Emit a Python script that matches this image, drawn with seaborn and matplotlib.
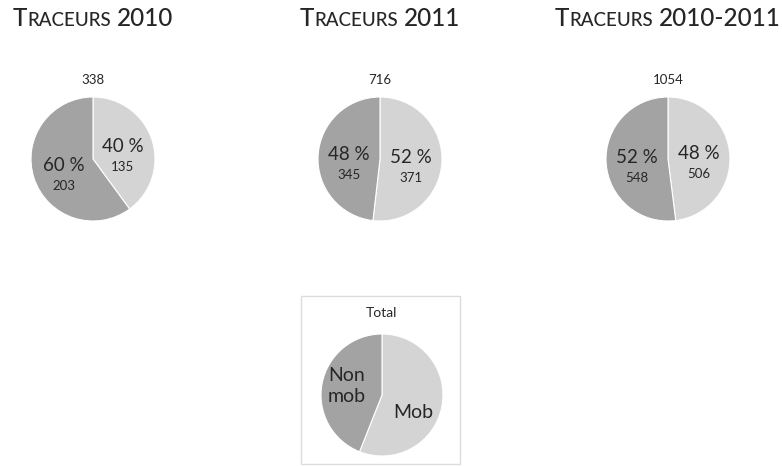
import math
import matplotlib
matplotlib.use("Agg")
import matplotlib.pyplot as plt
import seaborn as sns
from matplotlib.patches import Rectangle

# ---- data ----
categories = ["Mob", "Non mob"]
panel_titles = ["Traceurs 2010", "Traceurs 2011", "Traceurs 2010-2011"]
mob_counts = [135, 371, 506]
non_mob_counts = [203, 345, 548]
key_title = "Total"
key_shares = [56, 44]          # illustrative split for the key pie

# ---- style ----
sns.set_theme(style="white")
plt.rcParams["font.family"] = ["Lato", "DejaVu Sans"]
slice_colors = sns.color_palette(["#d4d4d4", "#a3a3a3"])
text_color = "#262626"

W, H = 782, 466
fig = plt.figure(figsize=(W / 100, H / 100), dpi=100)
fig.patch.set_facecolor("white")
renderer = fig.canvas.get_renderer()


def fx(x):
    return x / W


def fy(y):
    return 1 - y / H


def draw_pie(cx, cy, r, values):
    ax = fig.add_axes([fx(cx - r), fy(cy + r), 2 * r / W, 2 * r / H])
    ax.pie(values, colors=slice_colors, startangle=90, counterclock=False,
           radius=1, wedgeprops=dict(edgecolor="white", linewidth=0.8))
    ax.set_xlim(-1, 1)
    ax.set_ylim(-1, 1)
    ax.set_axis_off()
    return ax


def small_caps(text, cx, baseline, big, small):
    """Draw text centred on cx in small capitals (first letters full size)."""
    runs = []
    for word_i, word in enumerate(text.split(" ")):
        if word_i:
            runs.append((" ", big))
        for k, ch in enumerate(word):
            size = big if (k == 0 or not ch.isalpha()) else small
            if runs and runs[-1][1] == size and runs[-1][0] != " ":
                runs[-1] = (runs[-1][0] + ch.upper(), size)
            else:
                runs.append((ch.upper(), size))
    artists, widths = [], []
    for s, size in runs:
        t = fig.text(0, fy(baseline), s, fontsize=size, color=text_color,
                     ha="left", va="baseline", fontweight="medium")
        w = t.get_window_extent(renderer).width
        artists.append(t)
        widths.append(w)
    x = cx - sum(widths) / 2
    for t, w in zip(artists, widths):
        t.set_x(fx(x))
        x += w


centers_x = [93, 380, 668]
center_y, radius = 159, 62

for title, m, n, cx in zip(panel_titles, mob_counts, non_mob_counts, centers_x):
    small_caps(title, cx, 26, 17.5, 13.5)
    vals = [m, n]
    total = sum(vals)
    ax = draw_pie(cx, center_y, radius, vals)
    fig.text(fx(cx), fy(80), f"{total}", fontsize=9.5, color=text_color,
             ha="center", va="center")
    # percentage and count inside each slice
    acc = 0
    for v in vals:
        mid = 90 - 360 * (acc + v / 2) / total
        acc += v
        dx = 0.5 * math.cos(math.radians(mid))
        dy = 0.5 * math.sin(math.radians(mid)) - 0.05
        ax.text(dx, dy + 0.1, f"{round(100 * v / total)} %", fontsize=13.5,
                color=text_color, ha="center", va="center")
        ax.text(dx, dy - 0.23, f"{v}", fontsize=9.5, color=text_color,
                ha="center", va="center")

# ---- key panel ----
fig.add_artist(Rectangle((fx(301), fy(464)), (460 - 301) / W, (464 - 296) / H,
                         transform=fig.transFigure, facecolor="white",
                         edgecolor="#dcdcdc", linewidth=1.0, zorder=-1))
fig.text(fx(381), fy(313), key_title, fontsize=10, color=text_color,
         ha="center", va="center")
draw_pie(382, 395, 61, key_shares)
fig.text(fx(413), fy(412), categories[0], fontsize=14, color=text_color,
         ha="center", va="center")
fig.text(fx(347), fy(386), categories[1].replace(" ", "\n"), fontsize=14,
         color=text_color, ha="center", va="center", linespacing=1.3)

fig.savefig("out.png", dpi=100, facecolor="white")
